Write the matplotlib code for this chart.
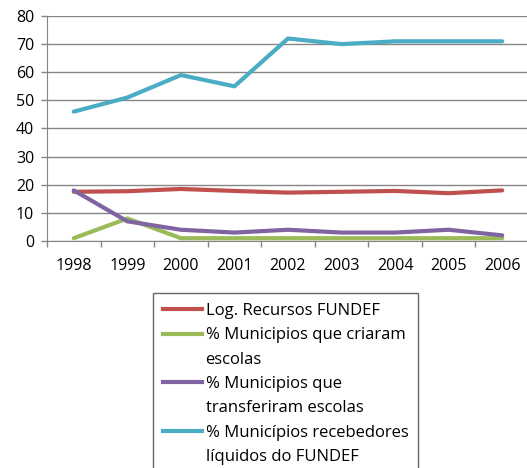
import matplotlib
matplotlib.use("Agg")
import matplotlib.pyplot as plt
from matplotlib.lines import Line2D

years = ["1998", "1999", "2000", "2001", "2002", "2003", "2004", "2005", "2006"]
log_recursos = [17.5, 17.7, 18.5, 17.8, 17.2, 17.5, 17.8, 17.0, 18.0]
criaram = [1, 8, 1, 1, 1, 1, 1, 1, 1]
transferiram = [18, 7, 4, 3, 4, 3, 3, 4, 2]
recebedores = [46, 51, 59, 55, 72, 70, 71, 71, 71]

labels = ["Log. Recursos FUNDEF",
          "% Municipios que criaram\nescolas",
          "% Municipios que\ntransferiram escolas",
          "% Municípios recebedores\nlíquidos do FUNDEF"]
colors = ["#C0504D", "#9BBB59", "#8064A2", "#4BACC6"]

plt.rcParams['font.family'] = ['Open Sans', 'DejaVu Sans']

W, H = 527, 468
fig = plt.figure(figsize=(W/100, H/100), dpi=100)
ax = fig.add_axes([47/W, 1-241/H, (529-47)/W, (241-16)/H])

x = list(range(len(years)))
handles = []
for s, c, l in zip([log_recursos, criaram, transferiram, recebedores], colors, labels):
    h, = ax.plot(x, s, color=c, lw=3, label=l, solid_capstyle='round', solid_joinstyle='round')
    handles.append(h)

ax.set_xlim(-0.5, 8.5)
ax.set_ylim(0, 80)
ax.set_yticks(range(0, 81, 10))
ax.set_xticks(x)
ax.set_xticklabels(years)
ax.set_xticks([i - 0.5 for i in range(10)], minor=True)
ax.tick_params(axis='x', which='major', length=0, pad=12, labelsize=11.5)
ax.tick_params(axis='x', which='minor', length=4.3, color='#868686', width=1)
ax.tick_params(axis='y', length=4.3, color='#868686', width=1, labelsize=11.5, pad=5)
ax.grid(axis='y', color='#868686', lw=1)
ax.set_axisbelow(True)
for sp in ['top', 'right']:
    ax.spines[sp].set_visible(False)
ax.spines['left'].set_color('#868686')
ax.spines['bottom'].set_color('#868686')

# legend: one row per text line, handle only on the first line of each entry
leg_handles, leg_labels = [], []
for h, l in zip(handles, labels):
    parts = l.split("\n")
    leg_handles.append(Line2D([], [], color=h.get_color(), lw=3))
    leg_labels.append(parts[0])
    for p in parts[1:]:
        leg_handles.append(Line2D([], [], color='none', lw=3))
        leg_labels.append(p)

leg = fig.legend(handles=leg_handles, labels=leg_labels, loc='upper left',
                 bbox_to_anchor=(153/W, 1-293/H), bbox_transform=fig.transFigure,
                 frameon=True, fancybox=False, edgecolor='#404040', fontsize=12,
                 handlelength=2.35, handletextpad=0.2, labelspacing=0.5,
                 borderaxespad=0, borderpad=0.6)
leg.get_frame().set_linewidth(1)

fig.savefig("out.png", dpi=100)
